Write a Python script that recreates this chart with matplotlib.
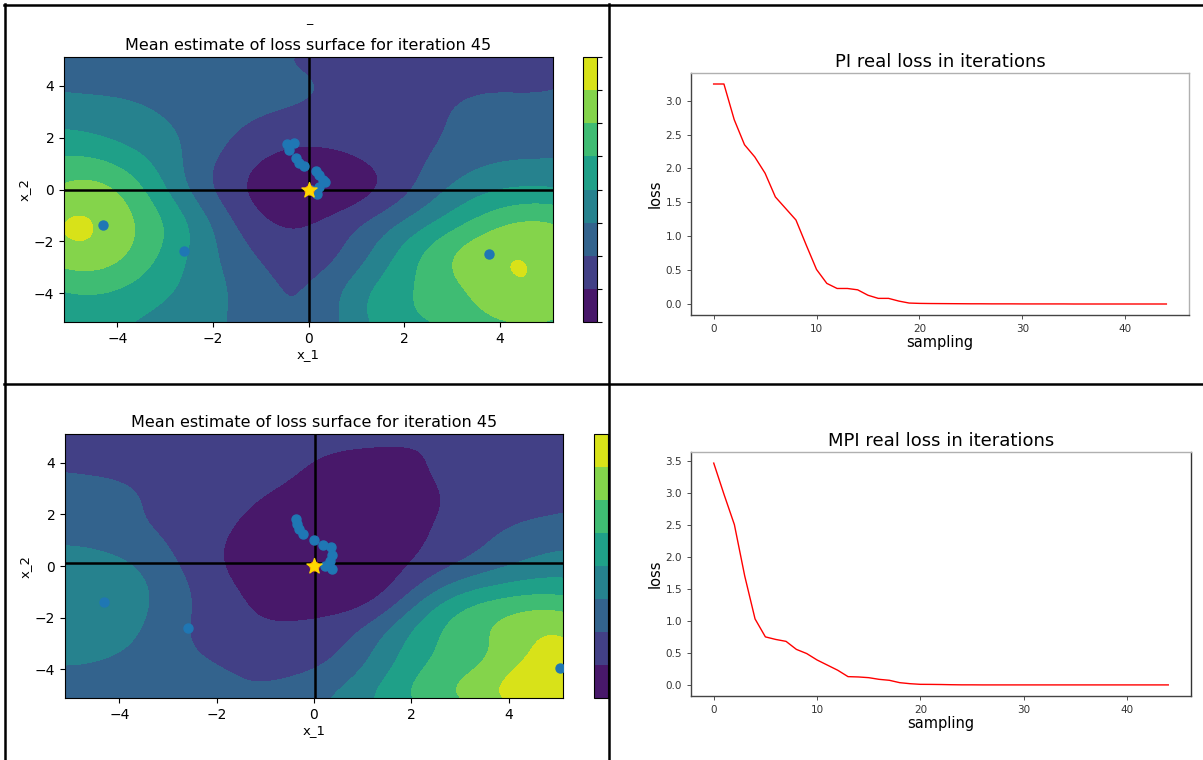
import numpy as np
import matplotlib
matplotlib.use("Agg")
import matplotlib.pyplot as plt
from matplotlib.lines import Line2D

# ---------------- data ----------------
grid_nodes = [-5.12, -3.84, -2.56, -1.28, 0.0, 1.28, 2.56, 3.84, 5.12]

# mean-estimate surface (band units), rows from y=5.12 down to y=-5.12
pi_surface = [
    [2.5, 2.5, 2.4, 2.2, 1.9, 1.5, 1.4, 1.5, 1.6],
    [2.95, 2.85, 2.6, 2.3, 2.05, 1.5, 1.6, 1.95, 2.0],
    [3.8, 3.4, 2.8, 2.0, 1.5, 1.4, 1.85, 2.3, 2.5],
    [5.0, 4.4, 2.9, 1.3, 0.75, 1.15, 2.0, 2.8, 2.95],
    [6.2, 5.7, 3.1, 1.0, 0.2, 0.85, 2.6, 3.9, 4.1],
    [7.02, 6.25, 4.05, 1.5, 0.92, 2.1, 3.9, 5.6, 5.95],
    [6.5, 6.0, 4.0, 2.2, 1.5, 3.0, 5.3, 6.78, 6.6],
    [5.1, 4.9, 3.8, 2.55, 2.05, 3.9, 5.3, 6.6, 6.65],
    [4.2, 4.1, 3.4, 2.7, 2.2, 4.0, 5.0, 5.8, 5.9],
]
mpi_surface = [
    [1.7, 1.6, 1.5, 1.4, 1.3, 1.25, 1.15, 1.4, 1.7],
    [1.85, 1.75, 1.5, 1.25, 0.95, 0.7, 1.1, 1.6, 1.8],
    [2.6, 2.1, 1.6, 1.05, 0.6, 0.4, 0.95, 1.6, 1.8],
    [2.75, 2.3, 1.6, 0.7, 0.3, 0.3, 1.15, 2.0, 2.5],
    [3.5, 3.1, 1.75, 0.6, 0.2, 0.45, 1.7, 2.9, 3.5],
    [3.7, 3.4, 2.05, 0.9, 0.6, 1.0, 3.6, 5.0, 5.2],
    [3.6, 3.2, 2.0, 1.2, 1.25, 2.6, 4.9, 6.2, 6.9],
    [3.0, 2.7, 2.2, 1.8, 1.9, 3.4, 5.3, 6.5, 7.6],
    [2.6, 2.4, 2.3, 2.1, 2.7, 4.05, 5.6, 6.95, 7.9],
]
contour_levels = [0, 1, 2, 3, 4, 5, 6, 7, 8]

pi_x1 = [-0.46, -0.30, -0.40, -0.27, -0.19, -0.09, 0.15, 0.22, 0.30, 0.34, 0.22, 0.17, 0.05, -4.31, -2.60, 3.79]
pi_x2 = [1.74, 1.78, 1.52, 1.20, 1.01, 0.90, 0.71, 0.56, 0.36, 0.30, 0.10, -0.18, 0.0, -1.38, -2.39, -2.48]
pi_cross = (0.0, 0.0)

mpi_x1 = [-0.38, -0.34, -0.30, -0.22, 0.0, 0.19, 0.34, 0.38, 0.32, 0.22, 0.38, -4.31, -2.59, 5.06]
mpi_x2 = [1.82, 1.62, 1.43, 1.26, 1.0, 0.82, 0.72, 0.43, 0.2, 0.0, -0.12, -1.39, -2.39, -3.94]
mpi_cross = (0.02, 0.11)

optimum = (0.0, 0.0)

pi_loss = [3.246, 3.246, 2.72, 2.35, 2.17, 1.93, 1.58, 1.41, 1.24, 0.87, 0.51, 0.305, 0.23, 0.23,
           0.21, 0.13, 0.084, 0.084, 0.044, 0.015, 0.01, 0.008, 0.007, 0.006, 0.005, 0.004, 0.004,
           0.003, 0.003, 0.003, 0.002, 0.002, 0.002, 0.002, 0.002, 0.001, 0.001, 0.001, 0.001,
           0.001, 0.001, 0.001, 0.001, 0.001, 0.001]
mpi_loss = [3.46, 2.97, 2.50, 1.70, 1.03, 0.75, 0.71, 0.68, 0.555, 0.49, 0.39, 0.31, 0.23, 0.13,
            0.125, 0.114, 0.088, 0.073, 0.036, 0.02, 0.01, 0.009, 0.007, 0.004, 0.002, 0.002,
            0.001, 0.001, 0.001, 0.001, 0.001, 0.001, 0.001, 0.001, 0.001, 0.001, 0.001, 0.001,
            0.001, 0.001, 0.001, 0.001, 0.001, 0.001, 0.001]

surface_title = "Mean estimate of loss surface for iteration 45"
pi_title = "PI real loss in iterations"
mpi_title = "MPI real loss in iterations"

# ---------------- helpers ----------------
W, H = 1203, 760
fig = plt.figure(figsize=(W / 100, H / 100), dpi=100)
fig.patch.set_facecolor("white")


def rect(l, t, w, h):
    return [l / W, 1 - (t + h) / H, w / W, h / H]


def smooth_surface(rows, length=1.15, ridge=0.02):
    nodes = np.array(grid_nodes)
    NX, NY = np.meshgrid(nodes, nodes[::-1])
    pts = np.column_stack([NX.ravel(), NY.ravel()])
    z = np.array(rows, dtype=float).ravel()
    mu = z.mean()
    d2 = ((pts[:, None, :] - pts[None, :, :]) ** 2).sum(-1)
    K = np.exp(-d2 / (2 * length ** 2))
    w = np.linalg.solve(K + ridge * np.eye(len(z)), z - mu)
    fine = np.linspace(nodes[0], nodes[-1], 300)
    FX, FY = np.meshgrid(fine, fine)
    fp = np.column_stack([FX.ravel(), FY.ravel()])
    d2f = ((fp[:, None, :] - pts[None, :, :]) ** 2).sum(-1)
    Zf = (np.exp(-d2f / (2 * length ** 2)) @ w + mu).reshape(FX.shape)
    return fine, np.clip(Zf, 0.01, 7.99)


def surface_panel(ax_rect, cax_rect, rows, px, py, cross, title):
    ax = fig.add_axes(rect(*ax_rect))
    g, Z = smooth_surface(rows)
    cf = ax.contourf(g, g, Z, levels=contour_levels, cmap="viridis")
    ax.axhline(cross[1], color="black", lw=1.8)
    ax.axvline(cross[0], color="black", lw=1.8)
    ax.scatter(px, py, s=42, color="#1f77b4", zorder=3)
    ax.scatter([optimum[0]], [optimum[1]], s=40, color="#ff7f0e", zorder=3)
    ax.scatter([optimum[0]], [optimum[1]], s=130, marker="*", color="gold", zorder=4)
    ax.set_xlim(-5.12, 5.12)
    ax.set_ylim(-5.12, 5.12)
    ax.set_xticks([-4, -2, 0, 2, 4])
    ax.set_yticks([-4, -2, 0, 2, 4])
    ax.tick_params(labelsize=10)
    ax.set_xlabel("x_1", fontsize=9.5, labelpad=2)
    ax.set_ylabel("x_2", fontsize=9.5, labelpad=2)
    ax.set_title(title, fontsize=11.5, pad=5)
    cax = fig.add_axes(rect(*cax_rect))
    cb = fig.colorbar(cf, cax=cax)
    cb.ax.set_yticklabels([])
    cb.ax.tick_params(length=3.5, width=0.8)
    return ax


def loss_panel(ax_rect, values, title, yticks, spine_cols):
    ax = fig.add_axes(rect(*ax_rect))
    ax.plot(range(len(values)), values, color="red", lw=1.0)
    ax.set_xticks([0, 10, 20, 30, 40])
    ax.set_yticks(yticks)
    ax.set_yticklabels([f"{v:.1f}" for v in yticks])
    ax.tick_params(labelsize=7.5, length=3, width=0.6, colors="#333333")
    ax.set_xlabel("sampling", fontsize=10.5, labelpad=1)
    ax.set_ylabel("loss", fontsize=10.5, labelpad=2)
    ax.set_title(title, fontsize=13, pad=4)
    for side, col in spine_cols.items():
        ax.spines[side].set_color(col)
        ax.spines[side].set_linewidth(1.0)
    return ax


# ---------------- panels ----------------
surface_panel((64, 57, 489, 265), (583, 57, 14, 265), pi_surface, pi_x1, pi_x2, pi_cross,
              surface_title)
fig.text(309 / W, 1 - 19 / H, "_", ha="center", va="center", fontsize=9)

surface_panel((65, 434, 498, 264), (594, 434, 14, 264), mpi_surface, mpi_x1, mpi_x2, mpi_cross,
              surface_title)

loss_panel((691, 73, 498, 242), pi_loss, pi_title, [0.0, 0.5, 1.0, 1.5, 2.0, 2.5, 3.0],
           {"left": "#444444", "bottom": "#444444", "top": "#b0b0b0", "right": "#b0b0b0"})
loss_panel((691, 452, 500, 244), mpi_loss, mpi_title, [0.0, 0.5, 1.0, 1.5, 2.0, 2.5, 3.0, 3.5],
           {"left": "#444444", "bottom": "#444444", "top": "#b0b0b0", "right": "#333333"})

# ---------------- table borders ----------------
def hline(y, x0, x1):
    fig.add_artist(Line2D([x0 / W, x1 / W], [1 - y / H, 1 - y / H], color="black", lw=1.8,
                          zorder=10))


def vline(x, y0, y1):
    fig.add_artist(Line2D([x / W, x / W], [1 - y0 / H, 1 - y1 / H], color="black", lw=1.8,
                          zorder=10))


# white cover: the cell edge cuts off the colorbar labels
fig.add_artist(plt.Rectangle((610 / W, 0), 8 / W, 1, transform=fig.transFigure,
                             facecolor="white", edgecolor="none", zorder=5))
hline(5, 4, 1203)
hline(384, 4, 1203)
vline(5, 4, 760)
vline(609, 4, 760)

fig.savefig("out.png", dpi=100, facecolor="white")
